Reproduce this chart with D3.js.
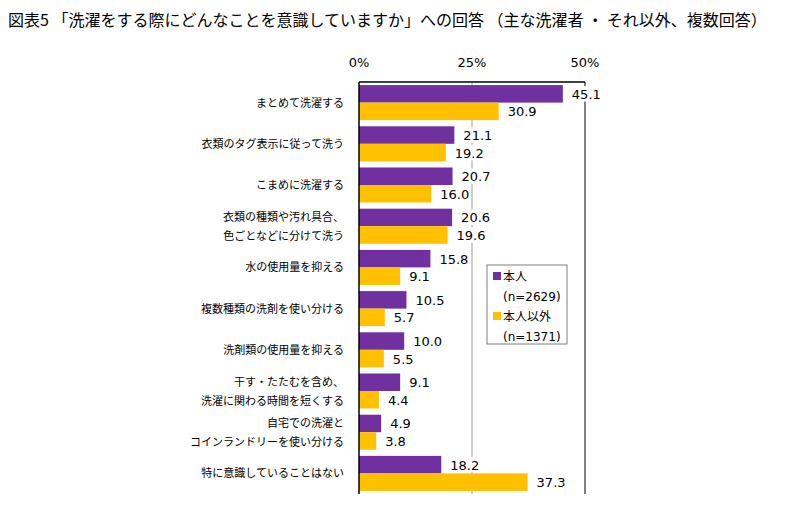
<!DOCTYPE html>
<html lang="ja">
<head>
<meta charset="utf-8">
<title>図表5</title>
<style>
  body { margin: 0; background: #fff; }
  svg text { font-family: "Noto Sans CJK JP", "DejaVu Sans", sans-serif; }
  .num { font-family: "DejaVu Sans", sans-serif; }
</style>
</head>
<body>
<script src="https://cdn.jsdelivr.net/npm/d3@7"></script>
<svg width="810" height="528"></svg>
<script>
// categories (two-line labels split by "|")
var categories = [
  "まとめて洗濯する",
  "衣類のタグ表示に従って洗う",
  "こまめに洗濯する",
  "衣類の種類や汚れ具合、|色ごとなどに分けて洗う",
  "水の使用量を抑える",
  "複数種類の洗剤を使い分ける",
  "洗剤類の使用量を抑える",
  "干す・たたむを含め、|洗濯に関わる時間を短くする",
  "自宅での洗濯と|コインランドリーを使い分ける",
  "特に意識していることはない"
];
var honnin =  [45.1, 21.1, 20.7, 20.6, 15.8, 10.5, 10.0, 9.1, 4.9, 18.2];
var igai =    [30.9, 19.2, 16.0, 19.6,  9.1,  5.7,  5.5, 4.4, 3.8, 37.3];
var seriesNames = ["本人", "本人以外"];
var seriesN = ["(n=2629)", "(n=1371)"];
var colors = ["#7030A0", "#FFC000"];
var ticks = [0, 25, 50];

var svg = d3.select("svg");

svg.append("text")
  .attr("x", 8).attr("y", 26)
  .attr("font-size", 16)
  .text("図表5 「洗濯をする際にどんなことを意識していますか」への回答 （主な洗濯者 ・ それ以外、複数回答）");

var x = d3.scaleLinear().domain([0, 50]).range([359, 585]);
var y = d3.scaleBand().domain(d3.range(categories.length)).range([82, 494]).paddingInner(0.15).paddingOuter(0.075);
var sub = d3.scaleBand().domain([0, 1]).range([0, y.bandwidth()]);

// gridlines
svg.append("line").attr("x1", x(25)).attr("x2", x(25)).attr("y1", 82).attr("y2", 494)
  .attr("stroke", "#9a9a9a").attr("stroke-width", 1);
svg.append("line").attr("x1", x(50)).attr("x2", x(50)).attr("y1", 82).attr("y2", 494)
  .attr("stroke", "#7f7f7f").attr("stroke-width", 2);

// tick labels
svg.selectAll(".tick").data(ticks).enter().append("text")
  .attr("class", "num")
  .attr("x", function(d) { return x(d); })
  .attr("y", 67)
  .attr("text-anchor", "middle")
  .attr("font-size", 13)
  .text(function(d) { return d + "%"; });

var series = [honnin, igai];
series.forEach(function(vals, s) {
  svg.selectAll(".bar" + s).data(vals).enter().append("rect")
    .attr("x", x(0))
    .attr("y", function(d, i) { return y(i) + sub(s); })
    .attr("width", function(d) { return x(d) - x(0); })
    .attr("height", sub.bandwidth())
    .attr("fill", colors[s]);
});

// value labels with white background
series.forEach(function(vals, s) {
  var g = svg.selectAll(".lab" + s).data(vals).enter().append("g");
  g.append("rect")
    .attr("x", function(d) { return x(d) + 7; })
    .attr("y", function(d, i) { return y(i) + sub(s) + 1; })
    .attr("width", 32)
    .attr("height", sub.bandwidth() - 2)
    .attr("fill", "#fff");
  g.append("text")
    .attr("class", "num")
    .attr("x", function(d) { return x(d) + 9; })
    .attr("y", function(d, i) { return y(i) + sub(s) + sub.bandwidth() / 2 + 5; })
    .attr("font-size", 13)
    .text(function(d) { return d.toFixed(1); });
});

// axes lines
svg.append("line").attr("x1", x(0)).attr("x2", x(50)).attr("y1", 82).attr("y2", 82)
  .attr("stroke", "#000").attr("stroke-width", 1.5);
svg.append("line").attr("x1", x(0)).attr("x2", x(0)).attr("y1", 82).attr("y2", 494)
  .attr("stroke", "#000").attr("stroke-width", 1.5);

// category labels
categories.forEach(function(c, i) {
  var lines = c.split("|");
  var cy = y(i) + y.bandwidth() / 2;
  var t = svg.append("text")
    .attr("x", 344)
    .attr("text-anchor", "end")
    .attr("font-size", 11);
  lines.forEach(function(l, k) {
    t.append("tspan")
      .attr("x", 344)
      .attr("y", cy + 4 + (k - (lines.length - 1) / 2) * 19)
      .text(l);
  });
});

// legend
var lg = svg.append("g").attr("transform", "translate(487,265)");
lg.append("rect").attr("width", 80).attr("height", 79)
  .attr("fill", "#fff").attr("stroke", "#7f7f7f");
seriesNames.forEach(function(n, s) {
  lg.append("rect").attr("x", 6).attr("y", 7 + s * 40).attr("width", 8).attr("height", 8)
    .attr("fill", colors[s]);
  lg.append("text").attr("x", 16).attr("y", 16 + s * 40).attr("font-size", 12).text(n);
  lg.append("text").attr("class", "num").attr("x", 16).attr("y", 36 + s * 40).attr("font-size", 12).text(seriesN[s]);
});
</script>
</body>
</html>
